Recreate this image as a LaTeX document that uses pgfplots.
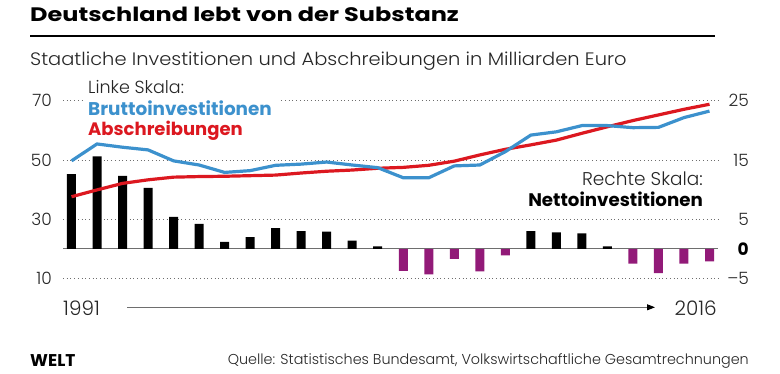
\documentclass[border=0pt]{standalone}
\usepackage{fontspec}
\setmainfont{Poppins}[UprightFont={* Light}, BoldFont={* Bold}]
\newfontfamily\titlefont{Poppins Bold}[FakeStretch=1.23]
\newfontfamily\subfont{Poppins Light}[FakeStretch=1.08]
\usepackage{pgfplots}
\pgfplotsset{compat=1.18}
\usetikzlibrary{arrows.meta}
\definecolor{cblue}{RGB}{60,145,205}
\definecolor{cred}{RGB}{220,24,32}
\definecolor{cpurple}{RGB}{146,26,120}
\definecolor{cgrid}{RGB}{110,110,110}
\newcommand{\fs}[1]{\fontsize{#1}{#1}\selectfont}
\tikzset{rl/.style={anchor=east, inner sep=0pt, xshift=31pt, text=black!85},
  ll/.style={anchor=east, inner sep=0pt, xshift=-11pt, text=black!85}}
\begin{document}
\begin{tikzpicture}[x=1pt,y=1pt]
\path[use as bounding box] (0,0) rectangle (780,373);
\pgfplotsset{base/.style={at={(63pt,94.5pt)}, anchor=south west, scale only axis,
  width=655pt, height=177.8pt, xmin=1990.667, xmax=2016.333,
  axis line style={draw=none}, major tick length=0pt, xtick=\empty,
  yticklabels={}, clip=false}}
% right scale: bars + grid
\begin{axis}[base, ymin=-5, ymax=25, ytick={-5,5,15,25}, ymajorgrids,
  major grid style={cgrid, line width=0.9pt, dash pattern=on 0.9pt off 2.8pt},
  extra y ticks={0}, extra y tick labels={},
  extra y tick style={major grid style={solid, cgrid, line width=1.2pt}}]
\addplot[ybar, bar width=9pt, bar shift=0pt, fill=black, draw=none] coordinates {
(1991,12.6) (1992,15.6) (1993,12.3) (1994,10.3) (1995,5.4) (1996,4.2) (1997,1.2)
(1998,2.0) (1999,3.5) (2000,3.0) (2001,2.9) (2002,1.4) (2003,0.4)
(2009,3.0) (2010,2.8) (2011,2.6) (2012,0.4)};
\addplot[ybar, bar width=9pt, bar shift=0pt, fill=cpurple, draw=none] coordinates {
(2004,-3.7) (2005,-4.3) (2006,-1.7) (2007,-3.8) (2008,-1.1)
(2013,-2.5) (2014,-4.1) (2015,-2.5) (2016,-2.1)};
\node[rl] at (axis cs:2016.333,25) {\fs{17}25};
\node[rl] at (axis cs:2016.333,15) {\fs{17}15};
\node[rl] at (axis cs:2016.333,5) {\fs{17}5};
\node[rl] at (axis cs:2016.333,-5) {\fs{17}–5};
\node[rl, text=black] at (axis cs:2016.333,0) {\fs{17}\bfseries 0};
\end{axis}
% left scale: lines
\begin{axis}[base, ymin=10, ymax=70, ytick=\empty]
\addplot[cred, line width=3.2pt] coordinates {
(1991,37.6) (1992,39.9) (1993,42.1) (1994,43.3) (1995,44.2) (1996,44.4) (1997,44.5)
(1998,44.7) (1999,44.9) (2000,45.6) (2001,46.2) (2002,46.6) (2003,47.2) (2004,47.5)
(2005,48.2) (2006,49.6) (2007,51.7) (2008,53.6) (2009,55.1) (2010,56.7) (2011,59.0)
(2012,61.2) (2013,63.3) (2014,65.2) (2015,67.1) (2016,68.8)};
\addplot[cblue, line width=3.2pt] coordinates {
(1991,49.7) (1992,55.4) (1993,54.3) (1994,53.4) (1995,49.7) (1996,48.3) (1997,45.8)
(1998,46.4) (1999,48.2) (2000,48.6) (2001,49.3) (2002,48.3) (2003,47.4) (2004,44.0)
(2005,44.0) (2006,48.0) (2007,48.3) (2008,52.8) (2009,58.4) (2010,59.5) (2011,61.6)
(2012,61.6) (2013,60.9) (2014,61.0) (2015,64.3) (2016,66.5)};
\node[ll] at (axis cs:1990.667,70) {\fs{17}70};
\node[ll] at (axis cs:1990.667,50) {\fs{17}50};
\node[ll] at (axis cs:1990.667,30) {\fs{17}30};
\node[ll] at (axis cs:1990.667,10) {\fs{17}10};
\end{axis}
% annotations
\fill[white] (83,295) rectangle (280,233);
\node[anchor=base west, inner sep=0pt, text=black!85] at (88,279.7) {\fs{17.5}Linke Skala:};
\node[anchor=base west, inner sep=0pt, text=cblue] at (88,257.3) {\fs{18.4}\bfseries Bruttoinvestitionen};
\node[anchor=base west, inner sep=0pt, text=cred] at (88,237) {\fs{18}\bfseries Abschreibungen};
\node[anchor=base east, inner sep=0pt, text=black!85] at (703,187) {\fs{18.5}Rechte Skala:};
\node[anchor=base east, inner sep=0pt] at (703,166.3) {\fs{18.2}\bfseries Nettoinvestitionen};
% title block
\node[anchor=base west, inner sep=0pt] at (30,351.3) {\titlefont\fs{19.5}Deutschland lebt von der Substanz};
\draw[line width=2.3pt] (30,336.8) -- (715,336.8);
\node[anchor=base west, inner sep=0pt, text=black!85] at (30,307.7) {\subfont\fs{18}Staatliche Investitionen und Abschreibungen in Milliarden Euro};
% time arrow
\node[anchor=base west, inner sep=0pt, text=black!85] at (63,58) {\fs{20}1991};
\node[anchor=base east, inner sep=0pt, text=black!85] at (717,58) {\fs{20}2016};
\draw[cgrid, line width=1pt, -{Triangle[length=8pt,width=6pt,fill=black,color=black]}] (127,65.7) -- (655,65.7);
% footer
\node[anchor=base west, inner sep=0pt] at (30,7) {\fs{17}\bfseries WELT};
\node[anchor=base east, inner sep=0pt, text=black!85] at (749,9) {\fs{14.35}Quelle: Statistisches Bundesamt, Volkswirtschaftliche Gesamtrechnungen};
\end{tikzpicture}
\end{document}
